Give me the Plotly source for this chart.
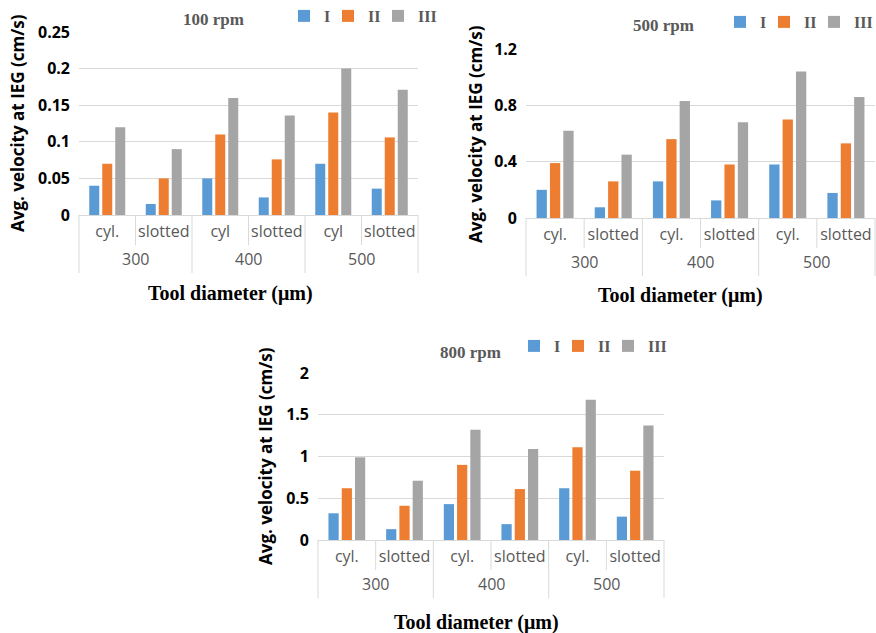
import plotly.graph_objects as go

# ---- data -------------------------------------------------------------
diameters = ["300", "300", "400", "400", "500", "500"]
tools_100 = ["cyl.", "slotted", "cyl", "slotted", "cyl", "slotted"]
tools = ["cyl.", "slotted", "cyl.", "slotted", "cyl.", "slotted"]
series_names = ["I", "II", "III"]
series_colors = ["#5B9BD5", "#ED7D31", "#A5A5A5"]

v100_I = [0.04, 0.015, 0.05, 0.024, 0.07, 0.036]
v100_II = [0.07, 0.05, 0.11, 0.076, 0.14, 0.106]
v100_III = [0.12, 0.09, 0.16, 0.136, 0.2, 0.171]

v500_I = [0.2, 0.076, 0.26, 0.125, 0.38, 0.178]
v500_II = [0.39, 0.26, 0.56, 0.38, 0.7, 0.53]
v500_III = [0.62, 0.45, 0.83, 0.68, 1.04, 0.86]

v800_I = [0.32, 0.13, 0.43, 0.19, 0.62, 0.28]
v800_II = [0.62, 0.41, 0.9, 0.61, 1.11, 0.83]
v800_III = [0.99, 0.71, 1.32, 1.09, 1.68, 1.37]

yticks_100 = [0, 0.05, 0.1, 0.15, 0.2, 0.25]
yticks_500 = [0, 0.4, 0.8, 1.2]
yticks_800 = [0, 0.5, 1, 1.5, 2]

titles = ["100 rpm", "500 rpm", "800 rpm"]
x_title = "Tool diameter (μm)"
y_title = "Avg. velocity at IEG (cm/s)"

# ---- layout geometry (pixels in an 876 x 633 page) ---------------------
W, H = 876, 633


def fx(px):
    return px / W


def fy(py):
    return 1 - py / H


# left, right, top, bottom of each plotting area
boxes = [(79, 418, 32, 215), (526, 875, 49, 218), (318, 664, 373, 540)]

GRID = "#D9D9D9"
LABEL_GREY = "#595959"
SUB_ROW = 30      # depth of the tool-type label row (px)
GROUP_ROW = 58    # depth of the diameter label row (px)
GROUP_LABEL = 44  # distance of the diameter labels below the axis (px)

# left edge of each legend entry (one row of entries per panel) and its top edge
legend_x = [(284, 328, 378), (720, 764, 814), (514, 558, 608)]
legend_top = [-1, 5, 329]

panels = [
    (tools_100, [v100_I, v100_II, v100_III], yticks_100),
    (tools, [v500_I, v500_II, v500_III], yticks_500),
    (tools, [v800_I, v800_II, v800_III], yticks_800),
]

fig = go.Figure()
shapes = []
annotations = []
legend_layouts = {}

for p, (subs, values, yticks) in enumerate(panels):
    k = "" if p == 0 else str(p + 1)
    keys = [d + " " + s for d, s in zip(diameters, subs)]
    for j, (name, color, vals) in enumerate(zip(series_names, series_colors, values)):
        n_leg = 3 * p + j + 1
        leg = "legend" if n_leg == 1 else "legend%d" % n_leg
        fig.add_trace(go.Bar(
            x=keys, y=vals, name=name, showlegend=True,
            marker=dict(color=color, line=dict(width=0)),
            xaxis="x" + k, yaxis="y" + k, legend=leg,
        ))
        legend_layouts[leg] = dict(
            x=fx(legend_x[p][j]), y=fy(legend_top[p]),
            xanchor="left", yanchor="top", orientation="h",
            bgcolor="rgba(0,0,0,0)", itemwidth=30,
            font=dict(family="Liberation Serif", size=16, color=LABEL_GREY,
                      weight="bold"),
        )

    left, right, top, bottom = boxes[p]
    plot_h = bottom - top
    fig.layout["xaxis" + k] = dict(
        domain=[fx(left), fx(right)], anchor="y" + k, type="category",
        showline=True, linecolor=GRID, linewidth=1,
        showgrid=False, ticks="", tickangle=0,
        tickvals=keys, ticktext=subs,
        tickfont=dict(family="Open Sans", size=16, color=LABEL_GREY),
        ticklabelstandoff=2, automargin=False,
    )
    fig.layout["yaxis" + k] = dict(
        domain=[fy(bottom), fy(top)], anchor="x" + k,
        range=[0, yticks[-1]], tickvals=yticks,
        showgrid=True, gridcolor=GRID, gridwidth=1, zeroline=False,
        showline=False, ticks="",
        tickfont=dict(family="Open Sans", size=16, color="#000000", weight="bold"),
        ticklabelstandoff=8, automargin=False,
    )

    # category separators: short ones inside a diameter group, long ones between groups
    n = len(keys)
    for i in range(n + 1):
        is_group_edge = i in (0, n) or diameters[i - 1] != diameters[i]
        depth = GROUP_ROW if is_group_edge else SUB_ROW
        shapes.append(dict(
            type="line", xref="x" + k + " domain", yref="y" + k + " domain",
            x0=i / n, x1=i / n, y0=0, y1=-depth / plot_h,
            line=dict(color=GRID, width=1),
        ))

    # diameter labels centred under each group
    for g in dict.fromkeys(diameters):
        idx = [i for i, d in enumerate(diameters) if d == g]
        centre = (min(idx) + max(idx) + 1) / 2 / n
        annotations.append(dict(
            text=g, xref="x" + k + " domain", yref="y" + k + " domain",
            x=centre, y=-GROUP_LABEL / plot_h, xanchor="center", yanchor="middle",
            showarrow=False,
            font=dict(family="Open Sans", size=16, color=LABEL_GREY),
        ))

fig.update_layout(**legend_layouts)

# chart titles, axis titles
title_pos = [(213, 20), (663, 25), (470, 352)]
xtitle_pos = [(230, 293), (680, 295), (477, 622)]
ytitle_pos = [(17, 123), (475, 134), (265, 456)]
for p in range(3):
    common = dict(xref="paper", yref="paper", showarrow=False,
                  xanchor="center", yanchor="middle")
    annotations.append(dict(
        text=titles[p], x=fx(title_pos[p][0]), y=fy(title_pos[p][1]),
        font=dict(family="Liberation Serif", size=17, color=LABEL_GREY, weight="bold"),
        **common,
    ))
    annotations.append(dict(
        text=x_title, x=fx(xtitle_pos[p][0]), y=fy(xtitle_pos[p][1]),
        font=dict(family="Liberation Serif", size=20, color="#000000", weight="bold"),
        **common,
    ))
    annotations.append(dict(
        text=y_title, x=fx(ytitle_pos[p][0]), y=fy(ytitle_pos[p][1]), textangle=-90,
        font=dict(family="Open Sans", size=17, color="#000000", weight="bold"),
        **common,
    ))

fig.update_layout(
    width=W, height=H, margin=dict(l=0, r=0, t=0, b=0, autoexpand=False),
    paper_bgcolor="white", plot_bgcolor="white", showlegend=True,
    barmode="group", bargap=0.31, bargroupgap=0.23,
    shapes=shapes, annotations=annotations,
)

fig.write_html("out.html")
